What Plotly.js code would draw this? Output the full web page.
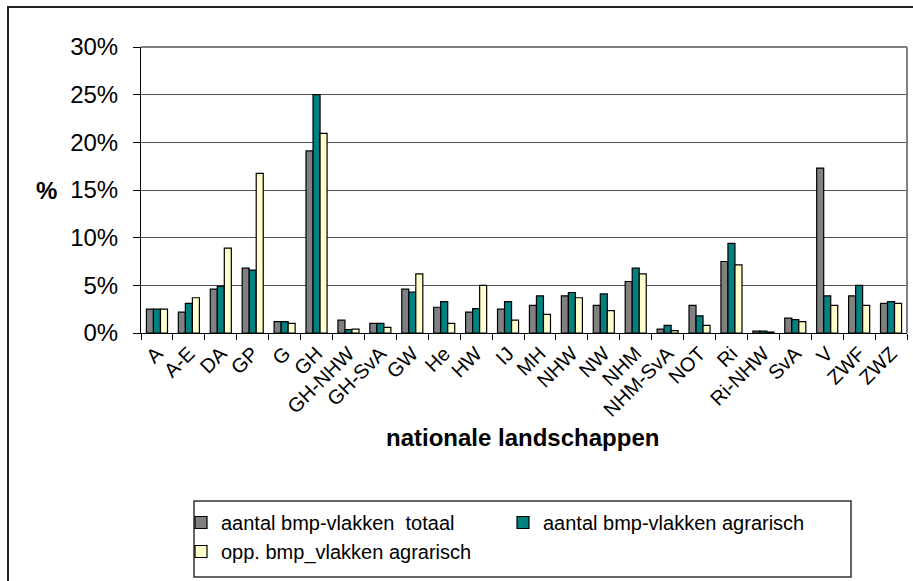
<!DOCTYPE html>
<html>
<head>
<meta charset="utf-8">
<script src="https://cdn.plot.ly/plotly-3.0.1.min.js"></script>
<style>html,body{margin:0;padding:0;background:#fff;}#chart{width:913px;height:581px;}</style>
</head>
<body>
<div id="chart"></div>
<script>
const categories = ["A","A-E","DA","GP","G","GH","GH-NHW","GH-SvA","GW","He","HW","IJ","MH","NHW","NW","NHM","NHM-SvA","NOT","Ri","Ri-NHW","SvA","V","ZWF","ZWZ"];
const totaal    = [2.5, 2.2, 4.6, 6.8, 1.2, 19.1, 1.35, 1.0, 4.6, 2.7, 2.2, 2.5, 2.9, 3.9, 2.9, 5.4, 0.4, 2.9, 7.5, 0.2, 1.55, 17.3, 3.9, 3.1];
const agrarisch = [2.5, 3.1, 4.9, 6.6, 1.2, 25.0, 0.35, 1.0, 4.3, 3.3, 2.55, 3.3, 3.9, 4.25, 4.1, 6.8, 0.8, 1.8, 9.4, 0.2, 1.4, 3.9, 5.0, 3.3];
const oppAgr    = [2.5, 3.7, 8.9, 16.75, 1.0, 20.95, 0.4, 0.6, 6.2, 1.0, 5.0, 1.35, 1.95, 3.7, 2.35, 6.2, 0.25, 0.8, 7.15, 0.1, 1.2, 2.9, 2.9, 3.1];
const seriesNames = ["aantal bmp-vlakken  totaal", "aantal bmp-vlakken agrarisch", "opp. bmp_vlakken agrarisch"];
const seriesColors = ["#808080", "#008080", "#FFFFCC"];
const yTicks = [0, 5, 10, 15, 20, 25, 30];

const font = "Liberation Sans, Arial, sans-serif";
const data = [totaal, agrarisch, oppAgr].map((vals, i) => ({
  type: "bar",
  name: seriesNames[i],
  x: categories,
  y: vals,
  marker: {color: seriesColors[i], line: {color: "#000", width: 1.2}},
  hoverinfo: "x+y+name"
}));

const W = 913, H = 581, L = 141, R = 6, T = 47, B = 248;
const pw = W - L - R, ph = H - T - B;
const px = x => (x - L) / pw;
const py = y => (H - B - y) / ph;

const layout = {
  width: W, height: H,
  margin: {l: L, r: R, t: T, b: B, pad: 0},
  paper_bgcolor: "#fff", plot_bgcolor: "#fff",
  font: {family: font, color: "#000"},
  barmode: "group", bargap: 0.34, bargroupgap: 0,
  showlegend: true,
  legend: {
    orientation: "h", x: px(181), y: py(503), xanchor: "left", yanchor: "top",
    font: {family: font, size: 20, color: "#000"},
    entrywidth: 277, entrywidthmode: "pixels",
    borderwidth: 0, bgcolor: "rgba(0,0,0,0)", traceorder: "normal"
  },
  xaxis: {
    type: "category", tickangle: -45,
    tickfont: {family: font, size: 20, color: "#000"},
    ticks: "outside", tickson: "boundaries", ticklen: 6, tickcolor: "#000",
    showline: true, linecolor: "#000", linewidth: 1,
    showgrid: false, automargin: false,
    title: {text: ""}
  },
  yaxis: {
    range: [0, 30], tickvals: yTicks, ticktext: yTicks.map(v => v + "%"),
    tickfont: {family: font, size: 24, color: "#000"},
    ticks: "outside", ticklen: 7, tickcolor: "#000", ticklabelstandoff: 10,
    showline: true, linecolor: "#000", linewidth: 1,
    showgrid: true, gridcolor: "#505050", gridwidth: 1,
    zeroline: false, automargin: false,
    title: {text: ""}
  },
  annotations: [
    {xref: "paper", yref: "paper", x: px(46), y: py(190), text: "<b>%</b>", showarrow: false,
     font: {family: font, size: 24, color: "#000"}, xanchor: "center", yanchor: "middle"},
    {xref: "paper", yref: "paper", x: px(522), y: py(437), text: "<b>nationale landschappen</b>", showarrow: false,
     font: {family: font, size: 24, color: "#000"}, xanchor: "center", yanchor: "middle"}
  ],
  shapes: [
    {type: "rect", xref: "paper", yref: "paper", x0: px(8), x1: px(930), y0: py(600), y1: py(7),
     line: {color: "#222", width: 2}, fillcolor: "rgba(0,0,0,0)", layer: "below"},
    {type: "line", xref: "paper", yref: "paper", x0: 1, x1: 1, y0: 0, y1: 1,
     line: {color: "#808080", width: 2}},
    {type: "line", xref: "paper", yref: "paper", x0: 0, x1: 1, y0: 1, y1: 1,
     line: {color: "#808080", width: 2}},
    {type: "rect", xref: "paper", yref: "paper", x0: px(194), x1: px(851), y0: py(577), y1: py(501),
     line: {color: "#333", width: 1.5}, fillcolor: "rgba(0,0,0,0)"}
  ]
};

Plotly.newPlot("chart", data, layout, {displayModeBar: false, staticPlot: true});
</script>
</body>
</html>
